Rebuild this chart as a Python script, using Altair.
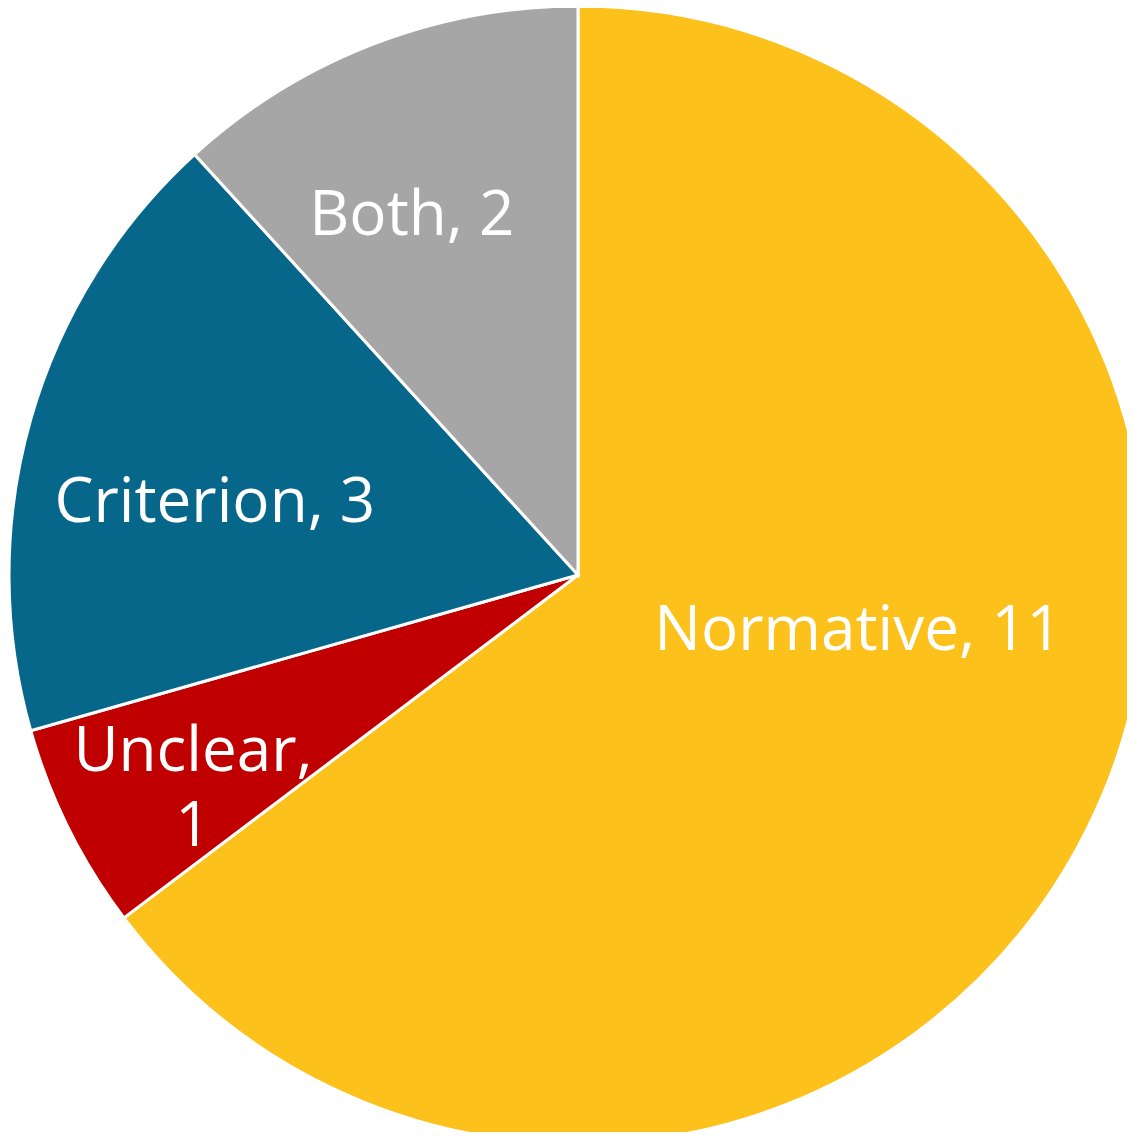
import altair as alt
import pandas as pd

categories = ["Normative", "Unclear", "Criterion", "Both"]
counts = [11, 1, 3, 2]
colors = ["#FDC11C", "#C00000", "#06678B", "#A6A6A6"]

# label placement (layout only): angular shift from slice middle (deg) and radius (px)
label_shift = {"Normative": -11.5, "Unclear": -0.5, "Criterion": -7.6, "Both": -4.9}
label_radius = {"Normative": 290, "Unclear": 432, "Criterion": 367, "Both": 378}

df = pd.DataFrame({"category": categories, "count": counts, "idx": list(range(len(categories)))})

CX, CY, R = 570, 567, 569

def lookup_expr(d):
    parts = ", ".join(f"'{k}': {v}" for k, v in d.items())
    return "{" + parts + "}[datum.category]"

color_scale = alt.Scale(domain=categories, range=colors)

arcs = alt.Chart(df).mark_arc(radius=R, stroke="white", strokeWidth=3).encode(
    theta=alt.Theta("count:Q", stack=True, scale=alt.Scale(range=[0, 6.283185307179586])),
    color=alt.Color("category:N", scale=color_scale, legend=None),
    order=alt.Order("idx:Q"),
    x=alt.value(CX),
    y=alt.value(CY),
)

labels = alt.Chart(df).transform_window(
    cum="sum(count)", sort=[alt.SortField("idx")], frame=[None, 0]
).transform_joinaggregate(
    total="sum(count)"
).transform_calculate(
    ang=f"(datum.cum - datum.count / 2) / datum.total * 2 * PI + ({lookup_expr(label_shift)}) * PI / 180",
    lr=lookup_expr(label_radius),
    label="datum.category + ',' + (datum.category == 'Unclear' ? '\\n' : ' ') + datum.count",
).mark_text(
    font="Open Sans", fontSize=62, color="white", align="center", baseline="alphabetic",
    lineBreak="\n", lineHeight=75,
).encode(
    theta=alt.Theta("ang:Q", scale=None),
    radius=alt.Radius("lr:Q", scale=None),
    text="label:N",
    x=alt.value(CX),
    y=alt.value(CY),
)

chart = alt.layer(arcs, labels).resolve_scale(theta="independent", radius="independent").properties(
    width=1119, height=1124, autosize=alt.AutoSizeParams(type="none"), padding=0
).configure_view(stroke=None)

chart.save("out.html", embed_options={"renderer": "svg", "actions": False})
